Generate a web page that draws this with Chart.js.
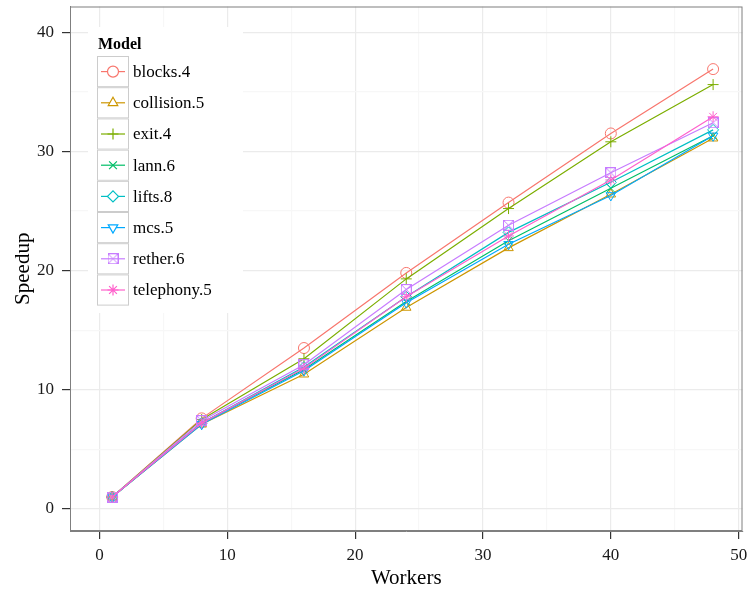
<!DOCTYPE html>
<html>
<head>
<meta charset="utf-8">
<script src="https://cdn.jsdelivr.net/npm/chart.js@4"></script>
<style>
  html, body { margin: 0; padding: 0; background: #fff; }
  #wrap { width: 749px; height: 592px; }
</style>
</head>
<body>
<div id="wrap"><canvas id="speedup"></canvas></div>
<script>
// workers on the x axis
const workers = [1, 8, 16, 24, 32, 40, 48];

// speedup per model
const blocks4    = [1.0, 7.6, 13.5, 19.8, 25.7, 31.5, 36.9];
const collision5 = [1.0, 7.1, 11.3, 16.9, 21.9, 26.4, 31.1];
const exit4      = [1.0, 7.5, 12.6, 19.3, 25.2, 30.8, 35.6];
const lann6      = [1.0, 7.2, 11.7, 17.4, 22.5, 26.9, 31.3];
const lifts8     = [1.0, 7.2, 11.9, 17.8, 23.2, 27.4, 31.8];
const mcs5       = [1.0, 7.1, 11.6, 17.3, 22.2, 26.3, 31.3];
const rether6    = [1.0, 7.4, 12.1, 18.4, 23.8, 28.2, 32.4];
const telephony5 = [1.0, 7.2, 11.8, 17.8, 22.9, 27.6, 32.9];

const models = ['blocks.4', 'collision.5', 'exit.4', 'lann.6', 'lifts.8', 'mcs.5', 'rether.6', 'telephony.5'];
const series = [blocks4, collision5, exit4, lann6, lifts8, mcs5, rether6, telephony5];
const colors = ['#F8766D', '#CD9600', '#7CAE00', '#00BE67', '#00BFC4', '#00A9FF', '#C77CFF', '#FF61CC'];

const xTicks = [0, 5, 10, 15, 20, 25, 30, 35, 40, 45, 50];
const yTicks = [0, 5, 10, 15, 20, 25, 30, 35, 40];

const SERIF = '"Liberation Serif", "DejaVu Serif", serif';

// square with a cross (ggplot shape 7)
function squareCross(color) {
	const c = document.createElement('canvas');
	c.width = 11; c.height = 11;
	const g = c.getContext('2d');
	g.strokeStyle = color;
	g.lineWidth = 1;
	g.strokeRect(0.5, 0.5, 10, 10);
	g.beginPath();
	g.moveTo(0.5, 0.5); g.lineTo(10.5, 10.5);
	g.moveTo(10.5, 0.5); g.lineTo(0.5, 10.5);
	g.stroke();
	return c;
}

const shapes = ['circle', 'triangle', 'cross', 'crossRot', 'rectRot', 'triangle', squareCross(colors[6]), 'star'];
const rotations = [0, 0, 0, 0, 0, 180, 0, 0];

const datasets = models.map((m, i) => ({
	label: m,
	data: workers.map((w, j) => ({ x: w, y: series[i][j] })),
	borderColor: colors[i],
	backgroundColor: colors[i],
	borderWidth: 1.2,
	pointStyle: shapes[i],
	pointRotation: rotations[i],
	pointRadius: 5.5,
	pointBorderWidth: 1,
	pointBackgroundColor: 'rgba(0,0,0,0)',
	pointBorderColor: colors[i],
	order: models.length - 1 - i
}));

// panel border + legend box like ggplot
const ggExtras = {
	id: 'ggExtras',
	afterDatasetsDraw(chart) {
		const ctx = chart.ctx;
		const a = chart.chartArea;
		ctx.save();
		ctx.strokeStyle = '#7F7F7F';
		ctx.lineWidth = 1;
		ctx.strokeRect(a.left + 0.5, a.top + 0.5, a.right - a.left - 1, a.bottom - a.top - 1);

		// legend
		ctx.fillStyle = '#fff';
		ctx.fillRect(88, 27, 155, 286);
		ctx.fillStyle = '#000';
		ctx.font = 'bold 16px ' + SERIF;
		ctx.textAlign = 'left';
		ctx.textBaseline = 'alphabetic';
		ctx.fillText('Model', 98, 49);

		const kx = 97, ky = 56, kw = 32, kh = 31.2;
		chart.data.datasets.forEach((ds, i) => {
			const y0 = ky + i * kh;
			const cy = y0 + kh / 2;
			ctx.fillStyle = '#fff';
			ctx.fillRect(kx, y0, kw, kh);
			ctx.strokeStyle = '#CCCCCC';
			ctx.lineWidth = 1;
			ctx.strokeRect(kx + 0.5, y0 + 0.5, kw - 1, kh - 1);
			ctx.strokeStyle = ds.borderColor;
			ctx.lineWidth = 1.2;
			ctx.beginPath();
			ctx.moveTo(kx + 4, cy);
			ctx.lineTo(kx + kw - 4, cy);
			ctx.stroke();
			Chart.helpers.drawPoint(ctx, {
				pointStyle: ds.pointStyle,
				rotation: ds.pointRotation,
				radius: 5.5,
				borderWidth: 1
			}, kx + kw / 2, cy);
			ctx.fillStyle = '#000';
			ctx.font = '17px ' + SERIF;
			ctx.textBaseline = 'middle';
			ctx.fillText(ds.label, 133, cy + 1);
		});
		ctx.restore();
	}
};

function gridColor(ctx) {
	return ctx.tick && ctx.tick.value % 10 === 0 ? '#EBEBEB' : '#F7F7F7';
}
function tickColor(ctx) {
	return ctx.tick && ctx.tick.value % 10 === 0 ? '#333333' : 'rgba(0,0,0,0)';
}
function noPad(s) {
	s.paddingTop = 0; s.paddingBottom = 0; s.paddingLeft = 0; s.paddingRight = 0;
}

new Chart(document.getElementById('speedup'), {
	type: 'line',
	data: { datasets: datasets },
	plugins: [ggExtras],
	options: {
		responsive: true,
		maintainAspectRatio: false,
		animation: false,
		layout: { padding: { left: 0, right: 5, top: 5, bottom: 0 } },
		plugins: {
			legend: { display: false },
			tooltip: { enabled: false }
		},
		scales: {
			x: {
				type: 'linear',
				min: -2.3,
				max: 50.3,
				afterBuildTicks: s => { s.ticks = xTicks.map(v => ({ value: v })); },
				afterFit: s => { s.height = 61; noPad(s); },
				grid: { color: gridColor, tickColor: tickColor, tickLength: 8, lineWidth: 1.2 },
				border: { display: true, color: '#7F7F7F' },
				ticks: {
					autoSkip: false,
					maxRotation: 0,
					padding: 6,
					color: '#1a1a1a',
					font: { family: SERIF, size: 17 },
					callback: v => (v % 10 === 0 ? v : '')
				},
				title: {
					display: true,
					text: 'Workers',
					color: '#000',
					font: { family: SERIF, size: 21 },
					padding: { top: 0, bottom: 1 }
				}
			},
			y: {
				min: -1.85,
				max: 42.15,
				afterBuildTicks: s => { s.ticks = yTicks.map(v => ({ value: v })); },
				afterFit: s => { s.width = 70; noPad(s); },
				grid: { color: gridColor, tickColor: tickColor, tickLength: 8, lineWidth: 1.2 },
				border: { display: true, color: '#7F7F7F' },
				ticks: {
					autoSkip: false,
					padding: 8,
					color: '#1a1a1a',
					font: { family: SERIF, size: 17 },
					callback: v => (v % 10 === 0 ? v : '')
				},
				title: {
					display: true,
					text: 'Speedup',
					color: '#000',
					font: { family: SERIF, size: 21 },
					padding: { top: 11, bottom: 0 }
				}
			}
		}
	}
});
</script>
</body>
</html>
